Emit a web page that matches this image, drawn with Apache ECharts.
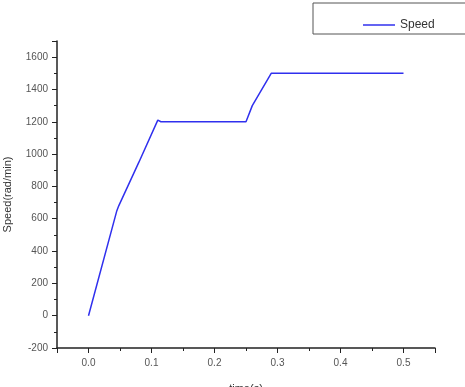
<!DOCTYPE html>
<html>
<head>
<meta charset="utf-8">
<script src="https://cdn.jsdelivr.net/npm/echarts@6/dist/echarts.min.js"></script>
<style>
  html, body { margin: 0; padding: 0; background: #fff; }
  #chart { width: 465px; height: 387px; }
</style>
</head>
<body>
<div id="chart"></div>
<script>
// time (s) and speed (rad/min)
var timeData = [0, 0.045, 0.048, 0.08, 0.11, 0.115, 0.25, 0.26, 0.29, 0.5];
var speedData = [0, 650, 680, 950, 1210, 1200, 1200, 1300, 1500, 1500];
var seriesName = 'Speed';

var chart = echarts.init(document.getElementById('chart'));
var points = timeData.map(function (t, i) { return [t, speedData[i]]; });

var axisFont = { fontFamily: 'Liberation Sans', fontSize: 10, color: '#555' };

var option = {
  animation: false,
  backgroundColor: '#fff',
  grid: { left: 57, right: 30, top: 41, bottom: 39, outerBoundsMode: 'none' },
  legend: {
    data: [seriesName],
    left: 313,
    top: 3,
    padding: [16, 40, 3, 50],
    icon: 'rect',
    itemWidth: 32,
    itemHeight: 1.5,
    itemGap: 4,
    borderColor: '#555',
    borderWidth: 1,
    textStyle: { fontFamily: 'Liberation Sans', fontSize: 12, color: '#333' }
  },
  xAxis: {
    type: 'value',
    min: -0.05,
    max: 0.55,
    splitNumber: 6,
    name: 'time(s)',
    nameLocation: 'middle',
    nameGap: 35,
    nameTextStyle: { fontFamily: 'Liberation Sans', fontSize: 11, color: '#333' },
    axisLine: { onZero: false, lineStyle: { color: '#222', width: 1.5 } },
    axisTick: { length: 5, lineStyle: { color: '#222' } },
    minorTick: { show: true, splitNumber: 2, length: 3, lineStyle: { color: '#222' } },
    splitLine: { show: false },
    axisLabel: Object.assign({
      showMinLabel: false,
      showMaxLabel: false,
      margin: 10,
      formatter: function (v) { return v.toFixed(1); }
    }, axisFont)
  },
  yAxis: {
    type: 'value',
    min: -200,
    max: 1700,
    interval: 200,
    name: 'Speed(rad/min)',
    nameLocation: 'middle',
    nameGap: 44,
    nameTextStyle: { fontFamily: 'Liberation Sans', fontSize: 11, color: '#333' },
    axisLine: { show: true, onZero: false, lineStyle: { color: '#222', width: 1.5 } },
    axisTick: { length: 5, lineStyle: { color: '#222' } },
    minorTick: { show: true, splitNumber: 2, length: 3, lineStyle: { color: '#222' } },
    splitLine: { show: false },
    axisLabel: Object.assign({
      showMaxLabel: false,
      margin: 9,
      formatter: function (v) { return String(v); }
    }, axisFont)
  },
  series: [{
    name: seriesName,
    type: 'line',
    data: points,
    symbol: 'none',
    color: '#3030ee',
    lineStyle: { width: 1.5 }
  }]
};
chart.setOption(option);
</script>
</body>
</html>
